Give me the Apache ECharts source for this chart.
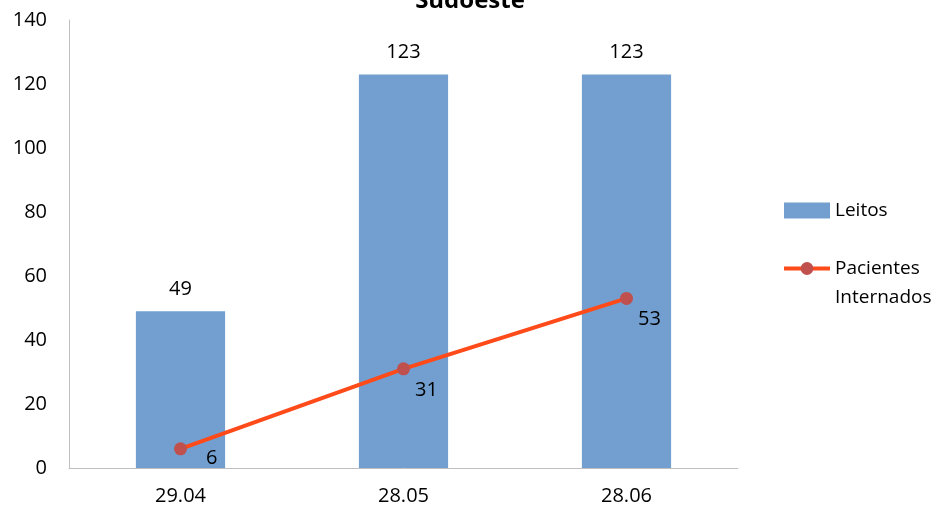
<!DOCTYPE html>
<html>
<head>
<meta charset="utf-8">
<script src="https://cdn.jsdelivr.net/npm/echarts@6/dist/echarts.min.js"></script>
<style>html,body{margin:0;padding:0;background:#fff}#c{width:943px;height:509px}</style>
</head>
<body>
<div id="c"></div>
<script>
const categories = ['29.04', '28.05', '28.06'];
const leitos = [49, 123, 123];
const pacientes = [6, 31, 53];
const yTicks = [0, 20, 40, 60, 80, 100, 120, 140];

const font = '"Open Sans", Lato, sans-serif';
const chart = echarts.init(document.getElementById('c'));
chart.setOption({
  animation: false,
  title: {
    text: 'Sudoeste', left: 465, top: -16, textAlign: 'center',
    textStyle: {fontFamily: font, fontSize: 24, fontWeight: 'bold', color: '#000'}
  },
  legend: {
    orient: 'vertical', left: 777, top: 191, itemGap: 0,
    itemWidth: 46, itemHeight: 16,
    textStyle: {fontFamily: font, fontSize: 19, color: '#000', lineHeight: 29},
    formatter: n => n === 'Pacientes Internados' ? ' \nPacientes\nInternados' : n,
    data: [
      {name: 'Leitos', icon: 'rect'},
      {name: 'Pacientes Internados', lineStyle: {width: 4}}
    ]
  },
  grid: {left: 69, right: 205, top: 20, bottom: 41},
  xAxis: {
    type: 'category', data: categories,
    axisLine: {lineStyle: {color: '#bfbfbf'}},
    axisTick: {show: false},
    axisLabel: {fontFamily: font, fontSize: 20, color: '#000', margin: 18}
  },
  yAxis: {
    type: 'value', min: yTicks[0], max: yTicks[yTicks.length - 1], interval: 20,
    axisLine: {show: true, lineStyle: {color: '#bfbfbf'}},
    axisTick: {show: false},
    splitLine: {show: false},
    axisLabel: {fontFamily: font, fontSize: 20, color: '#000', margin: 22}
  },
  series: [
    {
      name: 'Leitos', type: 'bar', data: leitos, barWidth: '40%',
      itemStyle: {color: '#729fd0'},
      label: {show: true, position: 'top', distance: 12, fontFamily: font, fontSize: 20, color: '#000'}
    },
    {
      name: 'Pacientes Internados', type: 'line',
      data: pacientes.map((v, i) => ({value: v, label: {offset: i === 0 ? [14, 9] : [0, 21]}})),
      symbol: 'circle', symbolSize: 13,
      lineStyle: {color: '#ff4a1a', width: 4},
      itemStyle: {color: '#c0504d'},
      label: {show: true, position: 'right', distance: 5, fontFamily: font, fontSize: 20, color: '#000'}
    }
  ]
});
</script>
</body>
</html>
